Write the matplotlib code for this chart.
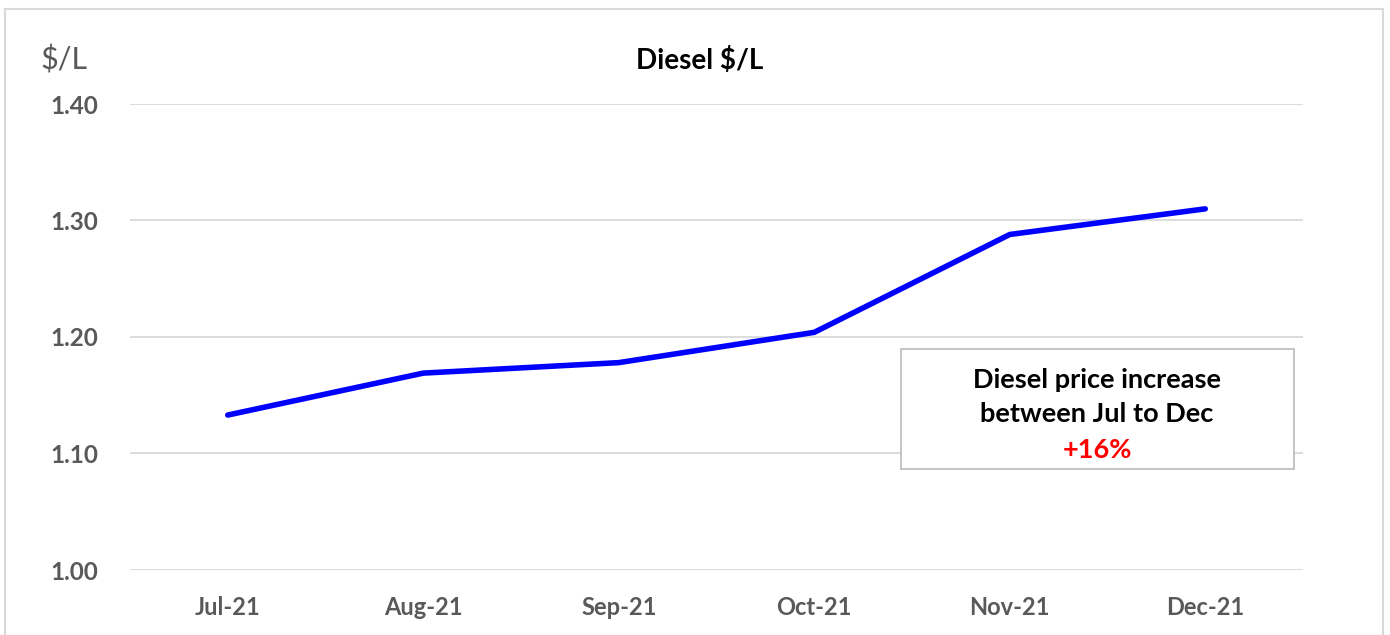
import matplotlib.pyplot as plt
from matplotlib.patches import Rectangle

plt.rcParams['font.family'] = ['Lato', 'DejaVu Sans']

months = ['Jul-21', 'Aug-21', 'Sep-21', 'Oct-21', 'Nov-21', 'Dec-21']
diesel = [1.133, 1.169, 1.178, 1.204, 1.288, 1.310]
y_ticks = [1.00, 1.10, 1.20, 1.30, 1.40]

fig = plt.figure(figsize=(13.9, 6.35), dpi=100)
ax = fig.add_axes([130 / 1390, 1 - 570 / 635, (1303 - 130) / 1390, (570 - 104) / 635])

x = list(range(len(months)))
ax.plot(x, diesel, color='#0000ff', linewidth=4, solid_capstyle='round')

ax.set_xlim(-0.5, len(months) - 0.5)
ax.set_ylim(1.0, 1.4)
ax.set_yticks(y_ticks)
ax.set_yticklabels(['%.2f' % v for v in y_ticks], fontsize=17.5, fontweight='bold', color='#595959')
ax.set_xticks(x)
ax.set_xticklabels(months, fontsize=17, fontweight='bold', color='#595959')
ax.tick_params(axis='both', length=0)
ax.tick_params(axis='y', pad=23)
ax.tick_params(axis='x', pad=19)
ax.grid(axis='y', color='#d9d9d9', linewidth=1.3)
ax.set_axisbelow(True)
for s in ax.spines.values():
    s.set_visible(False)

fig.text(636 / 1390, 1 - 60 / 635, 'Diesel $/L', fontsize=20, fontweight='bold',
         ha='left', va='center', color='black')
fig.text(40 / 1390, 1 - 60 / 635, '$/L', fontsize=22, ha='left', va='center', color='#595959')

# annotation box
fig.patches.append(Rectangle((901 / 1390, 1 - 469 / 635), 393 / 1390, 120 / 635,
                             transform=fig.transFigure, facecolor='white',
                             edgecolor='#bfbfbf', linewidth=1.3, zorder=5))
fig.text(1097 / 1390, 1 - 380 / 635, 'Diesel price increase', fontsize=19.5, fontweight='bold',
         ha='center', va='center', zorder=6)
fig.text(1097 / 1390, 1 - 414 / 635, 'between Jul to Dec', fontsize=19.5, fontweight='bold',
         ha='center', va='center', zorder=6)
fig.text(1097 / 1390, 1 - 450 / 635, '+16%', fontsize=19.5, fontweight='bold', color='#ff0000',
         ha='center', va='center', zorder=6)

# outer chart border
fig.patches.append(Rectangle((5 / 1390, -0.05), 1378 / 1390, 1 - 9 / 635 + 0.05,
                             transform=fig.transFigure, facecolor='none',
                             edgecolor='#d9d9d9', linewidth=1.5))

fig.savefig('out.png', dpi=100)
